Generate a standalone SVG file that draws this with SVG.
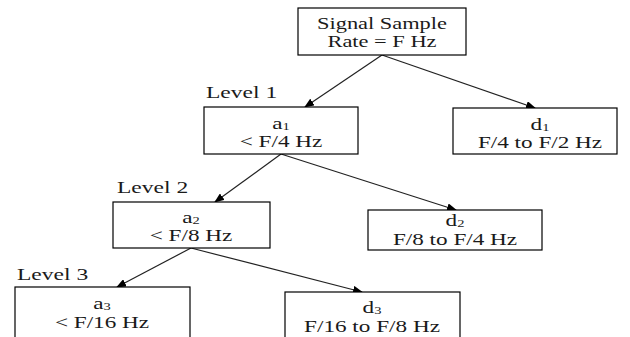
<svg xmlns="http://www.w3.org/2000/svg" width="630" height="337" viewBox="0 0 630 337">
<style>
.box{fill:#fff;stroke:#000;stroke-width:1.2}
.t{font-family:"Liberation Serif","Times New Roman",serif;font-size:16px;fill:#1a1a1a;text-anchor:middle}
.lv{font-family:"Liberation Serif","Times New Roman",serif;font-size:16px;fill:#1a1a1a}
.sub{font-size:10px}
.c{stroke:#222;stroke-width:1.2;fill:none;marker-end:url(#ah)}
</style>
<defs>
<marker id="ah" markerWidth="10" markerHeight="8" refX="9" refY="4" orient="auto" markerUnits="userSpaceOnUse">
<path d="M0,0 L10,4 L0,8 Z" fill="#000"/>
</marker>
</defs>
<rect width="630" height="337" fill="#fff"/>
<g id="connectors">
<line class="c" x1="382" y1="55" x2="305" y2="107"/>
<line class="c" x1="382" y1="55" x2="535" y2="108"/>
<line class="c" x1="281" y1="154" x2="215" y2="202"/>
<line class="c" x1="281" y1="154" x2="456" y2="210"/>
<line class="c" x1="191" y1="248" x2="117" y2="287"/>
<line class="c" x1="191" y1="248" x2="362" y2="292"/>
</g>
<g id="root">
<rect class="box" x="298" y="8" width="168" height="47"/>
<g transform="translate(382,0) scale(1.4,1)">
<text class="t" x="0" y="29" font-size="17">Signal Sample</text>
<text class="t" x="0" y="47" font-size="17">Rate = F Hz</text>
</g>
</g>
<g id="level1"><text class="lv" transform="translate(206,98) scale(1.47,1)">Level 1</text></g>
<g id="a1">
<rect class="box" x="204" y="107" width="154" height="47"/>
<g transform="translate(281,0) scale(1.45,1)">
<text class="t" x="0" y="129">a<tspan class="sub" dy="1">1</tspan></text>
<text class="t" x="0" y="147">&lt; F/4 Hz</text>
</g>
</g>
<g id="d1">
<rect class="box" x="453" y="108" width="164" height="46"/>
<g transform="translate(540,0) scale(1.45,1)">
<text class="t" x="0" y="130">d<tspan class="sub" dy="1">1</tspan></text>
<text class="t" x="0" y="148">F/4 to F/2 Hz</text>
</g>
</g>
<g id="level2"><text class="lv" transform="translate(117,193) scale(1.47,1)">Level 2</text></g>
<g id="a2">
<rect class="box" x="113" y="202" width="157" height="46"/>
<g transform="translate(191,0) scale(1.45,1)">
<text class="t" x="0" y="223">a<tspan class="sub" dy="1">2</tspan></text>
<text class="t" x="0" y="241">&lt; F/8 Hz</text>
</g>
</g>
<g id="d2">
<rect class="box" x="368" y="210" width="174" height="40"/>
<g transform="translate(455,0) scale(1.45,1)">
<text class="t" x="0" y="226">d<tspan class="sub" dy="1">2</tspan></text>
<text class="t" x="0" y="245">F/8 to F/4 Hz</text>
</g>
</g>
<g id="level3"><text class="lv" transform="translate(17,280) scale(1.47,1)">Level 3</text></g>
<g id="a3">
<rect class="box" x="15" y="287" width="175" height="60"/>
<g transform="translate(102,0) scale(1.45,1)">
<text class="t" x="0" y="309">a<tspan class="sub" dy="1">3</tspan></text>
<text class="t" x="0" y="328">&lt; F/16 Hz</text>
</g>
</g>
<g id="d3">
<rect class="box" x="285" y="292" width="175" height="55"/>
<g transform="translate(372,0) scale(1.45,1)">
<text class="t" x="0" y="313">d<tspan class="sub" dy="1">3</tspan></text>
<text class="t" x="0" y="332">F/16 to F/8 Hz</text>
</g>
</g>
</svg>
